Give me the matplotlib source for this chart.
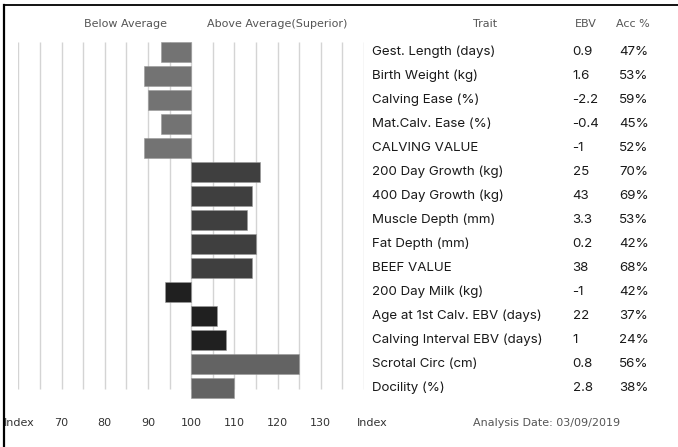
import matplotlib
matplotlib.use("Agg")
import matplotlib.pyplot as plt
import matplotlib.transforms as mtransforms
from matplotlib.lines import Line2D

traits = ["Gest. Length (days)", "Birth Weight (kg)", "Calving Ease (%)",
          "Mat.Calv. Ease (%)", "CALVING VALUE", "200 Day Growth (kg)",
          "400 Day Growth (kg)", "Muscle Depth (mm)", "Fat Depth (mm)",
          "BEEF VALUE", "200 Day Milk (kg)", "Age at 1st Calv. EBV (days)",
          "Calving Interval EBV (days)", "Scrotal Circ (cm)", "Docility (%)"]
ebv = ["0.9", "1.6", "-2.2", "-0.4", "-1", "25", "43", "3.3", "0.2", "38",
       "-1", "22", "1", "0.8", "2.8"]
acc = ["47%", "53%", "59%", "45%", "52%", "70%", "69%", "53%", "42%", "68%",
       "42%", "37%", "24%", "56%", "38%"]
index_vals = [93, 89, 90, 93, 89, 116, 114, 113, 115, 114, 94, 106, 108, 125, 110]
groups = ["calving"] * 5 + ["growth"] * 5 + ["fert"] * 3 + ["other"] * 2
group_col = {"calving": "#737373", "growth": "#3f3f3f", "fert": "#202020", "other": "#636363"}
tick_vals = [70, 80, 90, 100, 110, 120, 130]

W, H = 678, 447
fig = plt.figure(figsize=(W / 100, H / 100), dpi=100)
fig.patch.set_facecolor("white")

# bar area: index 60 -> px 18.3, index 140 -> px 364
ax = fig.add_axes([18.3 / W, (H - 399.7) / H, (364 - 18.3) / W, (399.7 - 39.7) / H])
ax.set_xlim(60, 140)
ax.set_ylim(14.5, -0.5)
ax.axis("off")

ax.vlines(range(60, 141, 5), -0.42, 14.05, color="#d4d4d4", lw=1, zorder=0)
rows = list(range(len(traits)))
ax.barh(rows, [v - 100 for v in index_vals], left=100, height=0.83,
        color=[group_col[g] for g in groups], edgecolor="#9a9a9a", lw=0.4, zorder=2)

grey = "#555555"
fig.text(125 / W, 1 - 24 / H, "Below Average", ha="center", va="center",
         fontsize=8, color=grey)
fig.text(277 / W, 1 - 24 / H, "Above Average(Superior)", ha="center", va="center",
         fontsize=8, color=grey)
fig.text(485 / W, 1 - 24 / H, "Trait", ha="center", va="center", fontsize=8, color=grey)
fig.text(586 / W, 1 - 24 / H, "EBV", ha="center", va="center", fontsize=8, color=grey)
fig.text(633 / W, 1 - 24 / H, "Acc %", ha="center", va="center", fontsize=8, color=grey)

tr = mtransforms.blended_transform_factory(fig.transFigure, ax.transData)
tfont = dict(fontsize=9.6, family="Inter", color="#1a1a1a", va="center", ha="left",
             transform=tr)
for i in rows:
    ax.text(371.5 / W, i, traits[i], **tfont)
    ax.text(572.5 / W, i, ebv[i], **tfont)
    ax.text(619 / W, i, acc[i], **tfont)

# bottom axis labels
trx = mtransforms.blended_transform_factory(ax.transData, fig.transFigure)
yb = 1 - 423 / H
for t in tick_vals:
    ax.text(t, yb, str(t), transform=trx, ha="center", va="center", fontsize=8, color="#333333")
fig.text(4 / W, yb, "Index", ha="left", va="center", fontsize=8, color="#333333")
fig.text(357 / W, yb, "Index", ha="left", va="center", fontsize=8, color="#333333")
fig.text(473 / W, yb, "Analysis Date: 03/09/2019", ha="left", va="center",
         fontsize=8, color=grey)

# frame
fig.add_artist(Line2D([3.5 / W, 3.5 / W], [0, 1 - 5 / H], color="black", lw=1.6,
                      transform=fig.transFigure))
fig.add_artist(Line2D([3.5 / W, 1], [1 - 5 / H, 1 - 5 / H], color="black", lw=1.3,
                      transform=fig.transFigure))

fig.savefig("out.png", dpi=100)
